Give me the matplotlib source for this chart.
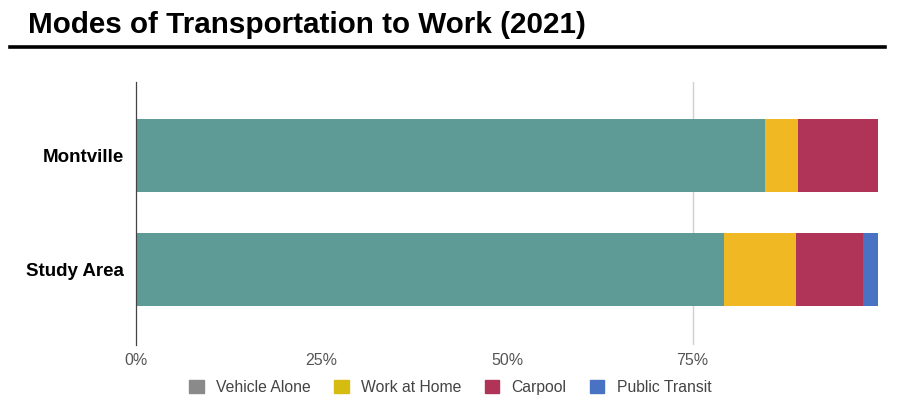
import numpy as np
import matplotlib.pyplot as plt

# commute share by mode, 2021 (fractions of workers)
places = ["Montville", "Study Area"]
modes = ["Vehicle Alone", "Work at Home", "Carpool", "Public Transit"]
vehicle_alone = [0.848, 0.793]
work_at_home = [0.044, 0.097]
carpool = [0.108, 0.090]
public_transit = [0.000, 0.020]

bar_colors = ["#5f9b96", "#f0b823", "#b03358", "#4a72c2"]
legend_colors = ["#8a8a8a", "#d6bc10", "#b03358", "#4a72c2"]

tick_vals = [0, 0.25, 0.5, 0.75]
tick_labels = ["0%", "25%", "50%", "75%"]

fig = plt.figure(figsize=(9.01, 4.13), dpi=100)

# title and rule underneath
fig.text(0.031, 0.94, "Modes of Transportation to Work (2021)",
         fontsize=21.3, fontweight="bold", va="center", ha="left",
         family=["Liberation Sans Narrow", "Liberation Sans", "DejaVu Sans"])
fig.add_artist(plt.Line2D([0.011, 0.982], [0.886, 0.886], color="black",
                          linewidth=2.6, transform=fig.transFigure))

ax = fig.add_axes([0.151, 0.165, 0.8235, 0.637])

y = np.arange(len(places))
series = [vehicle_alone, work_at_home, carpool, public_transit]
left = np.zeros(len(places))
for name, vals, col in zip(modes, series, bar_colors):
    ax.barh(y, vals, left=left, height=0.64, color=col, label=name)
    left += np.array(vals)

ax.axvline(0.75, color="#d0d0d0", linewidth=1, zorder=0)

ax.set_xlim(0, 1)
ax.set_ylim(1.66, -0.65)
ax.set_yticks(y)
ax.set_yticklabels(places, fontsize=13.5, fontweight="bold",
                   family=["Liberation Sans", "DejaVu Sans"])
ax.set_xticks(tick_vals)
ax.set_xticklabels(tick_labels, fontsize=11.5, color="#555555",
                   family=["Liberation Sans", "DejaVu Sans"])
ax.tick_params(axis="both", length=0)
ax.tick_params(axis="x", pad=6)
ax.tick_params(axis="y", pad=9)

for side in ["top", "right", "bottom"]:
    ax.spines[side].set_visible(False)
ax.spines["left"].set_color("#444444")
ax.spines["left"].set_linewidth(0.9)

handles = [plt.Rectangle((0, 0), 1, 1, color=c) for c in legend_colors]
fig.legend(handles, modes, loc="center", bbox_to_anchor=(0.5, 0.062),
           ncol=4, frameon=False, handlelength=0.9, handleheight=0.9,
           handletextpad=0.8, columnspacing=1.5,
           prop={"family": ["Liberation Sans", "DejaVu Sans"], "size": 11.3},
           labelcolor="#444444")

fig.savefig("out.png", dpi=100)
